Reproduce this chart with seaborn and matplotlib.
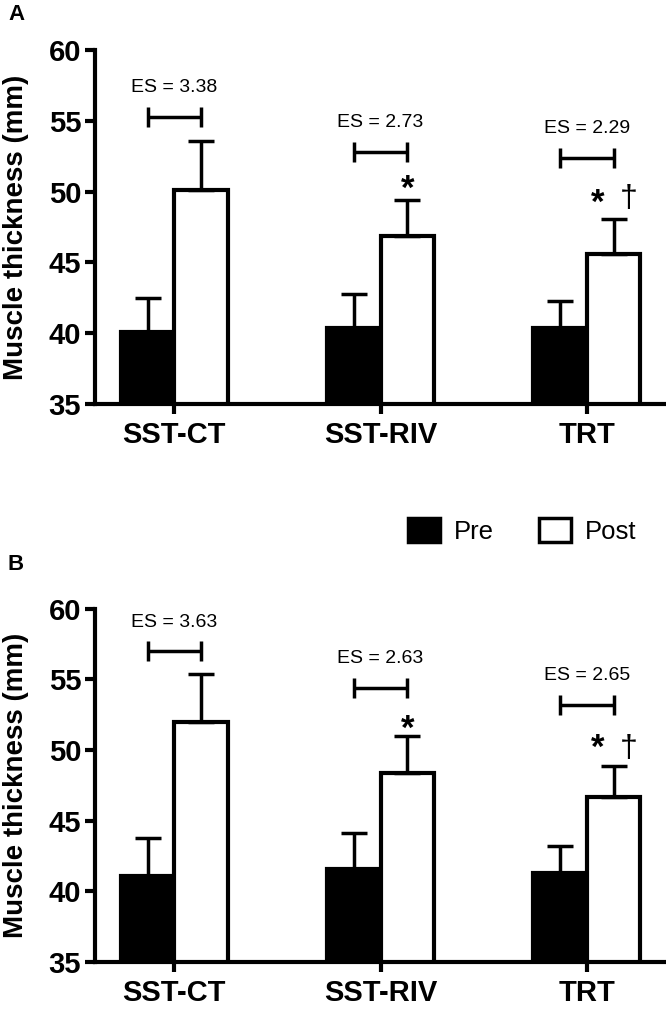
import matplotlib
matplotlib.use('Agg')
import matplotlib.pyplot as plt
import pandas as pd
import seaborn as sns
from matplotlib.patches import Patch

# data
groups = ['SST-CT', 'SST-RIV', 'TRT']
times = ['Pre', 'Post']

a_pre = [40.1, 40.4, 40.4]
a_pre_sd = [2.4, 2.4, 1.9]
a_post = [50.1, 46.9, 45.6]
a_post_sd = [3.5, 2.5, 2.5]

b_pre = [41.1, 41.6, 41.3]
b_pre_sd = [2.7, 2.5, 1.9]
b_post = [52.0, 48.4, 46.7]
b_post_sd = [3.4, 2.6, 2.2]

a_es = ['ES = 3.38', 'ES = 2.73', 'ES = 2.29']
a_es_y = [55.3, 52.8, 52.4]
b_es = ['ES = 3.63', 'ES = 2.63', 'ES = 2.65']
b_es_y = [57.0, 54.4, 53.2]

# significance marks: (group index, symbol, y)
a_marks = [(1, '*', 50.15), (2, '*', 49.15), (2, '†', 49.45)]
b_marks = [(1, '*', 51.5), (2, '*', 50.1), (2, '†', 50.1)]

sns.set_style('ticks')
plt.rcParams['font.family'] = ['Liberation Sans', 'DejaVu Sans']
plt.rcParams.update({'text.color': 'black', 'axes.labelcolor': 'black',
                     'xtick.color': 'black', 'ytick.color': 'black',
                     'axes.edgecolor': 'black'})

fig = plt.figure(figsize=(6.66, 10.09), dpi=100)
ax_a = fig.add_axes([0.1426, 0.5996, 0.856, 0.3508])
ax_b = fig.add_axes([0.1426, 0.0466, 0.856, 0.3500])


def draw_panel(ax, pre, pre_sd, post, post_sd, es, es_y, marks):
    df = pd.DataFrame({'group': groups * 2,
                       'time': ['Pre'] * 3 + ['Post'] * 3,
                       'value': pre + post})
    sns.barplot(data=df, x='group', y='value', hue='time', hue_order=times,
                palette=['black', 'white'], saturation=1, edgecolor='black',
                linewidth=3, width=0.52, errorbar=None, legend=False, ax=ax)
    # upper-only error bars
    for cont, vals, sds in zip(ax.containers, [pre, post], [pre_sd, post_sd]):
        xs = [b.get_x() + b.get_width() / 2 for b in cont]
        ax.errorbar(xs, vals, yerr=[[0] * len(sds), sds], fmt='none',
                    ecolor='black', elinewidth=2.5, capsize=9.5, capthick=2.5,
                    zorder=1)
    pre_x = [b.get_x() + b.get_width() / 2 for b in ax.containers[0]]
    post_x = [b.get_x() + b.get_width() / 2 for b in ax.containers[1]]
    # ES brackets
    for i in range(len(groups)):
        mid = (pre_x[i] + post_x[i]) / 2
        half = (post_x[i] - pre_x[i]) / 2
        ax.errorbar([mid], [es_y[i]], xerr=[half], fmt='none', ecolor='black',
                    elinewidth=2.5, capsize=7, capthick=2.5)
        ax.annotate(es[i], (mid, es_y[i]), xytext=(0, 21),
                    textcoords='offset points', ha='center', va='center',
                    fontsize=14)
    for gi, sym, y in marks:
        if sym == '*':
            x = post_x[gi] if gi == 1 else gi + 0.053
            ax.text(x, y, sym, ha='center', va='center', fontsize=25,
                    fontweight='bold')
        else:
            ax.text(gi + 0.204, y, sym, ha='center', va='center', fontsize=23)

    ax.set_ylim(35, 60)
    ax.set_yticks([35, 40, 45, 50, 55, 60])
    ax.set_xlim(-0.385, 2.38)
    ax.set_xlabel('')
    ax.set_ylabel('Muscle thickness (mm)', fontsize=20, fontweight='bold')
    ax.yaxis.set_label_coords(-0.115, 0.5)
    sns.despine(ax=ax)
    for s in ['left', 'bottom']:
        ax.spines[s].set_linewidth(3)
    ax.tick_params(axis='both', direction='out', length=7, width=3)
    ax.tick_params(axis='y', pad=3)
    ax.tick_params(axis='x', pad=5)
    for lab in ax.get_xticklabels():
        lab.set_fontsize(21)
        lab.set_fontweight('bold')
    for lab in ax.get_yticklabels():
        lab.set_fontsize(21)
        lab.set_fontweight('bold')


draw_panel(ax_a, a_pre, a_pre_sd, a_post, a_post_sd, a_es, a_es_y, a_marks)
draw_panel(ax_b, b_pre, b_pre_sd, b_post, b_post_sd, b_es, b_es_y, b_marks)

fig.text(0.012, 1 - 14 / 1009, 'A', fontsize=16, fontweight='bold', va='center')
fig.text(0.012, 1 - 565 / 1009, 'B', fontsize=16, fontweight='bold', va='center')

handles = [Patch(facecolor='black', edgecolor='black', linewidth=2.5),
           Patch(facecolor='white', edgecolor='black', linewidth=2.5)]
fig.legend(handles, times, loc='center', bbox_to_anchor=(0.784, 1 - 531 / 1009),
           ncol=2, frameon=False, fontsize=18.5, handlelength=1.25,
           handleheight=1.05, handletextpad=0.55, columnspacing=1.75)

fig.savefig('out.png', dpi=100)
